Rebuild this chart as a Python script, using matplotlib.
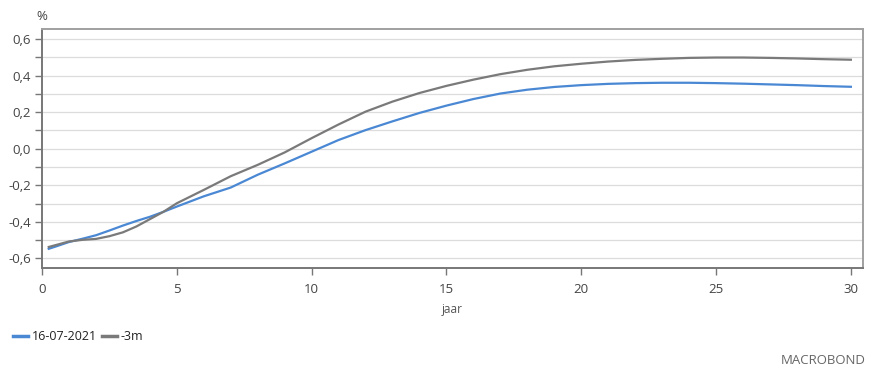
import matplotlib
matplotlib.use("Agg")
import matplotlib.pyplot as plt
from matplotlib.ticker import MultipleLocator, FuncFormatter

years = [0.25, 0.5, 1, 1.5, 2, 2.5, 3, 3.5, 4, 4.5, 5, 6, 7, 8, 9, 10, 11, 12, 13, 14, 15,
         16, 17, 18, 19, 20, 21, 22, 23, 24, 25, 26, 27, 28, 29, 30]
curve_now = [-0.547, -0.535, -0.510, -0.492, -0.473, -0.447, -0.420, -0.395, -0.372, -0.345,
             -0.316, -0.260, -0.212, -0.142, -0.080, -0.016, 0.048, 0.102, 0.150, 0.196,
             0.236, 0.272, 0.302, 0.323, 0.338, 0.348, 0.355, 0.359, 0.361, 0.361, 0.359,
             0.356, 0.352, 0.348, 0.343, 0.339]
curve_3m = [-0.537, -0.527, -0.507, -0.498, -0.493, -0.478, -0.457, -0.425, -0.385, -0.345,
            -0.298, -0.225, -0.150, -0.088, -0.020, 0.058, 0.133, 0.203, 0.258, 0.305, 0.344,
            0.378, 0.408, 0.432, 0.451, 0.465, 0.477, 0.486, 0.492, 0.497, 0.499, 0.499,
            0.497, 0.494, 0.490, 0.487]
series_labels = ["16-07-2021", "-3m"]
x_label = "jaar"
y_unit = "%"

plt.rcParams['font.family'] = ['Open Sans', 'DejaVu Sans']

fig = plt.figure(figsize=(8.79, 3.79), dpi=100)
ax = fig.add_axes([42/879, 1 - 268/379, 821/879, (268 - 29)/379])

blue = "#4a88d4"
grey = "#7a7a7a"
ax.plot(years, curve_now, color=blue, lw=1.6, label=series_labels[0])
ax.plot(years, curve_3m, color=grey, lw=1.6, label=series_labels[1])

ax.set_xlim(0, 30.45)
ax.set_ylim(-0.652, 0.655)
ax.xaxis.set_major_locator(MultipleLocator(5))
ax.yaxis.set_major_locator(MultipleLocator(0.2))
ax.yaxis.set_minor_locator(MultipleLocator(0.1))
ax.yaxis.set_major_formatter(FuncFormatter(lambda v, p: f"{v:.1f}".replace('.', ',').replace('-0,0', '0,0')))
ax.grid(axis='y', which='both', color='#dcdcdc', lw=0.9)
ax.set_axisbelow(True)

for s in ['left', 'bottom']:
    ax.spines[s].set_color('#777777')
    ax.spines[s].set_linewidth(1.4)
for s in ['top', 'right']:
    ax.spines[s].set_color('#a0a0a0')
    ax.spines[s].set_linewidth(1.4)

ax.tick_params(axis='both', which='both', direction='out', length=5, width=1, color='#777777',
               labelcolor='#444444', labelsize=9.5)
ax.tick_params(axis='y', pad=3)
ax.tick_params(axis='x', pad=6)

fig.text(42/879, 1 - 17/379, y_unit, ha='center', va='center', fontsize=9.5, color='#444444')
fig.text(452/879, 1 - 309/379, x_label, ha='center', va='center', fontsize=8.5, color='#555555')

leg = fig.legend(loc='center left', bbox_to_anchor=(2/879, 1 - 337/379), ncol=2, frameon=False,
                 handlelength=1.2, handletextpad=0.3, columnspacing=0.4,
                 prop={'size': 9})
for t in leg.get_texts():
    t.set_color('#222222')
for h in leg.get_lines():
    h.set_linewidth(2.5)

fig.text(866/879, 1 - 360/379, "MACROBOND", ha='right', va='center', fontsize=9.5,
         color='#666666')

fig.savefig("out.png", dpi=100)
